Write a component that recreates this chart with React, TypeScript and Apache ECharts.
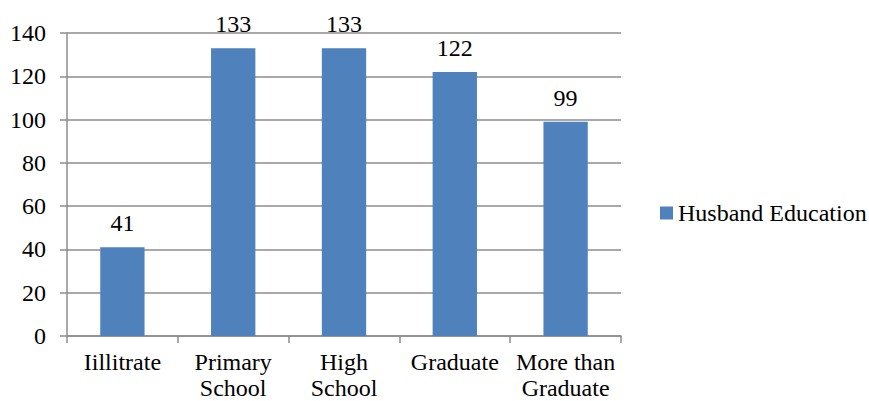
import React, { useEffect, useRef } from "react";
import * as echarts from "echarts";

const categories = ["Iillitrate", "Primary\nSchool", "High\nSchool", "Graduate", "More than\nGraduate"];
const seriesName = "Husband Education";
const values = [41, 133, 133, 122, 99];

const FONT = "Liberation Serif";
const FS = 24;

export default function App() {
  const ref = useRef<HTMLDivElement>(null);
  useEffect(() => {
    if (!ref.current) return;
    const chart = echarts.init(ref.current, undefined, { renderer: "svg" });
    chart.setOption({
      animation: false,
      backgroundColor: "#ffffff",
      textStyle: { fontFamily: FONT },
      grid: { left: 67, right: 248, top: 33, bottom: 65, containLabel: false, outerBoundsMode: "none" },
      legend: {
        data: [seriesName],
        orient: "vertical",
        left: 660,
        top: 201,
        padding: 0,
        icon: "rect",
        itemWidth: 13,
        itemHeight: 13,
        itemGap: 5,
        textStyle: { fontFamily: FONT, fontSize: FS, color: "#000" },
      },
      xAxis: {
        type: "category",
        data: categories,
        axisLine: { lineStyle: { color: "#8c8c8c", width: 1.5 } },
        axisTick: { show: true, length: 7, lineStyle: { color: "#8c8c8c", width: 1.5 } },
        axisLabel: { fontFamily: FONT, fontSize: FS, color: "#000", margin: 13, lineHeight: 26, interval: 0 },
      },
      yAxis: {
        type: "value",
        min: 0,
        max: 140,
        interval: 20,
        axisLine: { show: true, lineStyle: { color: "#8c8c8c", width: 1.5 } },
        axisTick: { show: true, length: 7, lineStyle: { color: "#8c8c8c", width: 1.5 } },
        splitLine: { show: true, lineStyle: { color: "#8c8c8c", width: 1.5 } },
        axisLabel: { fontFamily: FONT, fontSize: FS, color: "#000", margin: 21 },
      },
      series: [
        {
          name: seriesName,
          type: "bar",
          data: values,
          barWidth: "40%",
          itemStyle: { color: "#4F81BD" },
          label: {
            show: true,
            position: "top",
            distance: 12,
            fontFamily: FONT,
            fontSize: FS,
            color: "#000",
          },
        },
      ],
    });
    return () => chart.dispose();
  }, []);
  return <div ref={ref} style={{ width: 869, height: 401, position: "absolute", left: 0, top: 0 }} />;
}
